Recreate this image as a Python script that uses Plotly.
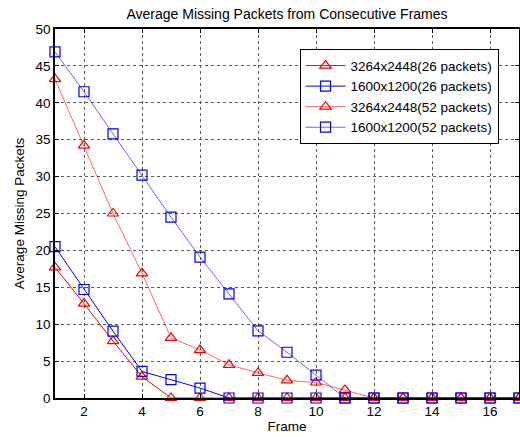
import plotly.graph_objects as go

frames = list(range(1, 18))
red26 = [17.7, 12.8, 7.7, 2.9, 0, 0, 0, 0, 0, 0, 0, 0, 0, 0, 0, 0, 0]
blue26 = [20.5, 14.7, 9.05, 3.6, 2.5, 1.35, 0, 0, 0, 0, 0, 0, 0, 0, 0, 0, 0]
red52 = [43.2, 34.2, 25.0, 16.9, 8.15, 6.5, 4.5, 3.4, 2.4, 2.1, 1.1, 0, 0, 0, 0, 0, 0]
blue52 = [46.9, 41.5, 35.8, 30.2, 24.5, 19.1, 14.1, 9.1, 6.2, 3.1, 0, 0, 0, 0, 0, 0, 0]
names = ["3264x2448(26 packets)", "1600x1200(26 packets)",
         "3264x2448(52 packets)", "1600x1200(52 packets)"]
xticks = [2, 4, 6, 8, 10, 12, 14, 16]
yticks = [0, 5, 10, 15, 20, 25, 30, 35, 40, 45, 50]

series = [
    (red26, names[0], "rgb(255,0,0)", "triangle-up-open"),
    (blue26, names[1], "rgb(0,0,255)", "square-open"),
    (red52, names[2], "rgba(255,0,0,0.6)", "triangle-up-open"),
    (blue52, names[3], "rgba(0,0,255,0.6)", "square-open"),
]

fig = go.Figure()
for ys, nm, col, sym in series:
    mcol = "rgb(255,0,0)" if "255,0,0" in col else "rgb(0,0,255)"
    fig.add_trace(go.Scatter(
        x=frames, y=ys, name=nm, mode="lines+markers",
        line=dict(color=col, width=1),
        marker=dict(symbol=sym, size=10, color=mcol, line=dict(width=1.2, color=mcol)),
        cliponaxis=False,
    ))

axis_common = dict(
    showline=True, linecolor="black", linewidth=1.5, mirror="ticks",
    ticks="inside", ticklen=4, tickcolor="black",
    showgrid=True, gridcolor="rgb(90,90,90)", griddash="dot", gridwidth=1,
    zeroline=False, tickfont=dict(size=13.5, color="black"), automargin=False,
)

fig.update_layout(
    width=520, height=437,
    margin=dict(l=55, r=1, t=29, b=39),
    paper_bgcolor="white", plot_bgcolor="white",
    font=dict(family="Liberation Sans, Arial, sans-serif", color="black", size=13.5),
    title=dict(text="Average Missing Packets from Consecutive Frames",
               xref="paper", x=0.5, xanchor="center", y=0.968, yanchor="middle",
               font=dict(size=14)),
    xaxis=dict(range=[1, 17], tickvals=xticks,
               title=dict(text="Frame", font=dict(size=13.5), standoff=4), **axis_common),
    yaxis=dict(range=[0, 50], tickvals=yticks,
               title=dict(text="Average Missing Packets", font=dict(size=13.5), standoff=8), **axis_common),
    legend=dict(x=0.527, y=0.945, xanchor="left", yanchor="top",
                bgcolor="white", bordercolor="black", borderwidth=1,
                font=dict(size=13.5), tracegroupgap=0, itemwidth=40),
    showlegend=True,
)

fig.write_html("out.html", config={"displayModeBar": False},
               post_script="document.body.style.margin='0';document.body.style.overflow='hidden';")
